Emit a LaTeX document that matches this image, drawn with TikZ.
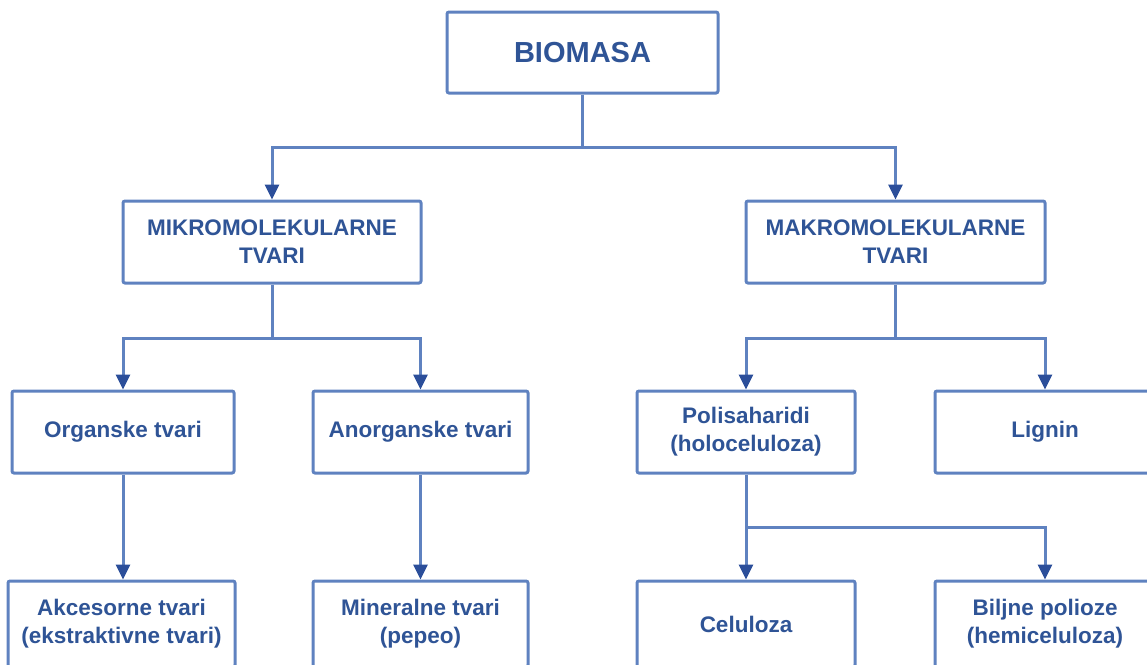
\documentclass[tikz,border=0pt]{standalone}
\usepackage{fontspec}
\setmainfont{Liberation Sans}
\usetikzlibrary{arrows.meta}
\definecolor{linecol}{HTML}{5F82C0}
\definecolor{txtcol}{HTML}{2F5496}
\definecolor{tipcol}{HTML}{2B4E9A}
\tikzset{
  box/.style={draw=linecol, line width=3pt, rounded corners=2pt, fill=white, align=center,
    text=txtcol, font=\bfseries\fontsize{22.5}{28}\selectfont, inner sep=0pt},
  conn/.style={draw=linecol, line width=3pt},
  arr/.style={conn, -{Triangle[width=14pt,length=15pt,color=tipcol]}}
}
\begin{document}
\begin{tikzpicture}[x=1pt,y=-1pt]
\useasboundingbox (0,0) rectangle (1147,664);
\clip (0,0) rectangle (1147,664);
\node[box, minimum width=271pt, minimum height=81pt, font=\bfseries\fontsize{29}{34}\selectfont] (bio) at (582.5,52.5) {BIOMASA};
\node[box, minimum width=298pt, minimum height=82pt] (mikro) at (272,242) {MIKROMOLEKULARNE\\TVARI};
\node[box, minimum width=299pt, minimum height=82pt] (makro) at (895.5,242) {MAKROMOLEKULARNE\\TVARI};
\node[box, minimum width=222pt, minimum height=82pt] (org) at (123,432) {Organske tvari};
\node[box, minimum width=215pt, minimum height=82pt] (anorg) at (420.5,432) {Anorganske tvari};
\node[box, minimum width=218pt, minimum height=82pt] (poli) at (746,432) {Polisaharidi\\(holoceluloza)};
\node[box, minimum width=220pt, minimum height=82pt] (lig) at (1045,432) {Lignin};
\node[box, minimum width=227pt, minimum height=86pt] (akc) at (121.5,624) {Akcesorne tvari\\(ekstraktivne tvari)};
\node[box, minimum width=215pt, minimum height=86pt] (min) at (420.5,624) {Mineralne tvari\\(pepeo)};
\node[box, minimum width=218pt, minimum height=86pt] (cel) at (746,624) {Celuloza};
\node[box, minimum width=220pt, minimum height=86pt] (bilj) at (1045,624) {Biljne polioze\\(hemiceluloza)};
\coordinate (j1) at (bio.south |- 0,147);
\draw[conn] (bio.south) -- (j1);
\draw[arr] (j1) -| (mikro.north);
\draw[arr] (j1) -| (makro.north);
\coordinate (j2) at (mikro.south |- 0,338);
\draw[conn] (mikro.south) -- (j2);
\draw[arr] (j2) -| (org.north);
\draw[arr] (j2) -| (anorg.north);
\coordinate (j3) at (makro.south |- 0,338);
\draw[conn] (makro.south) -- (j3);
\draw[arr] (j3) -| (poli.north);
\draw[arr] (j3) -| (lig.north);
\draw[arr] (org.south) -- (org.south |- akc.north);
\draw[arr] (anorg.south) -- (anorg.south |- min.north);
\coordinate (j4) at (poli.south |- 0,527);
\draw[conn] (poli.south) -- (j4);
\draw[arr] (j4) -- (cel.north);
\draw[arr] (j4) -| (bilj.north);
\end{tikzpicture}
\end{document}
